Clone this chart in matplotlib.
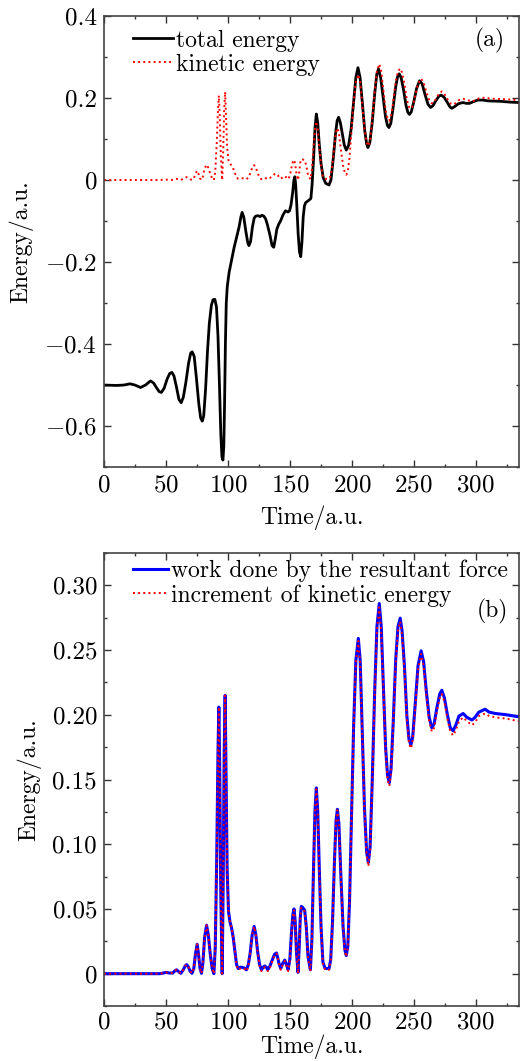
import numpy as np
import matplotlib
matplotlib.use("Agg")
import matplotlib.pyplot as plt

plt.rcParams['font.family'] = 'serif'
plt.rcParams['font.serif'] = ['cmr10']
plt.rcParams['mathtext.fontset'] = 'cm'
plt.rcParams['axes.formatter.use_mathtext'] = True
plt.rcParams['font.size'] = 17

# total energy (black)
t_tot = [0, 10, 16, 21, 25, 29.5, 33.5, 37.5, 40, 42.5, 44.5, 46.3, 48.5, 51, 53, 54.8, 56.5,
         58.5, 60.5, 62.3, 64, 66, 68.3, 70, 71.2, 72.8, 74.5, 76.5, 78, 79.3, 80.5, 82, 83.5,
         85, 86.7, 88, 89.5, 90.8, 92, 93.2, 94.3, 95.2, 96, 96.7, 97.3, 98, 98.7, 99.5, 101,
         103, 105, 107, 109, 110.5, 111.5, 112.8, 114.5, 116, 117, 118.3, 119.8, 121.2, 122.5,
         124.5, 126, 127.5, 129, 130.5, 132, 134, 135.7, 137, 138.2, 139.5, 141, 142.5, 144.5,
         146.5, 148.5, 149.8, 151, 152.3, 153.3, 154, 154.7, 155.6, 156.7, 157.8, 158.8, 159.8,
         160.8, 161.8, 162.8, 165.5, 167, 168, 169.3, 170.4, 171.4, 172.5, 173.7, 175.2, 177,
         179, 181.6, 183.2, 185, 186.8, 188.2, 189.4, 190.8, 192.5, 194, 195.6, 197.5, 199.5,
         201.5, 203.3, 205, 206.7, 208.5, 210.5, 212, 213, 214.5, 216.5, 218.5, 220.2, 221.6,
         223.3, 225.2, 227.2, 228.8, 230, 231.5, 233.3, 235.5, 237, 238.3, 239.8, 241.8, 243.8,
         245.3, 246.6, 248, 250, 252.3, 254.7, 256.8, 259, 261.5, 263.6, 265.5, 268, 270.5,
         272.2, 274.5, 277, 279.3, 280.8, 283, 286, 289.7, 292.5, 295, 298, 301.7, 306, 310,
         320, 328, 335]
e_tot = [-0.500, -0.501, -0.500, -0.497, -0.500, -0.506, -0.500, -0.490, -0.495, -0.507,
         -0.516, -0.518, -0.508, -0.485, -0.472, -0.469, -0.478, -0.505, -0.535, -0.543,
         -0.530, -0.495, -0.446, -0.422, -0.419, -0.430, -0.480, -0.545, -0.580, -0.588,
         -0.575, -0.510, -0.420, -0.350, -0.305, -0.292, -0.291, -0.310, -0.380, -0.500,
         -0.620, -0.675, -0.683, -0.650, -0.550, -0.400, -0.300, -0.260, -0.225, -0.195,
         -0.165, -0.140, -0.115, -0.090, -0.079, -0.090, -0.125, -0.152, -0.160, -0.150,
         -0.115, -0.093, -0.088, -0.087, -0.089, -0.086, -0.088, -0.095, -0.110, -0.135,
         -0.160, -0.164, -0.145, -0.120, -0.108, -0.100, -0.085, -0.075, -0.078, -0.075,
         -0.060, -0.030, 0.000, 0.008, -0.010, -0.060, -0.130, -0.175, -0.187, -0.150,
         -0.090, -0.063, -0.055, -0.049, -0.045, -0.010, 0.060, 0.130, 0.161, 0.140, 0.090,
         0.040, 0.005, -0.008, -0.012, 0.000, 0.050, 0.110, 0.145, 0.153, 0.140, 0.110, 0.085,
         0.073, 0.085, 0.125, 0.190, 0.250, 0.274, 0.250, 0.190, 0.120, 0.088, 0.079, 0.090,
         0.140, 0.210, 0.258, 0.271, 0.250, 0.205, 0.155, 0.133, 0.128, 0.138, 0.175, 0.228,
         0.252, 0.259, 0.250, 0.220, 0.182, 0.165, 0.160, 0.166, 0.190, 0.223, 0.242, 0.235,
         0.210, 0.185, 0.177, 0.181, 0.194, 0.205, 0.207, 0.202, 0.190, 0.178, 0.175, 0.179,
         0.186, 0.189, 0.187, 0.187, 0.191, 0.195, 0.195, 0.193, 0.192, 0.190, 0.189]

# kinetic energy (red dotted), same curve in both panels
t_kin = [0, 45, 48, 50, 53, 55.5, 57, 58.6, 60.3, 62, 64, 65.5, 66.7, 68, 69.5, 71, 72.5,
         73.8, 75.2, 76.3, 77.5, 78.7, 79.8, 81.2, 82.8, 84.2, 85.8, 87.3, 88.7, 89.8, 91, 92,
         92.7, 93.4, 94.3, 95.4, 96.2, 97, 97.8, 98.6, 99.4, 100.5, 101.7, 102.9, 104.3, 105.8,
         107, 108.3, 110, 111, 113, 115, 116.5, 118, 119.6, 121.2, 122.6, 124, 125.6, 127.1,
         128.5, 129.8, 131, 132.2, 134, 136, 137.7, 139.2, 140.3, 141.5, 142.7, 144.3, 145.9,
         147.3, 148.6, 150, 151.5, 152.5, 153.4, 154.3, 155.4, 156.6, 157.6, 158.4, 159.3,
         160.5, 162, 163.3, 164.7, 166.6, 167.8, 169, 170.3, 171.4, 172.5, 173.8, 175.2, 176.7,
         178.5, 181.7, 183, 184.5, 186, 187.3, 188.4, 189.6, 191.2, 193, 194.5,
         195.6, 196.8, 198.2, 199.8, 201.5, 203.3, 205.3, 206.8, 208.5, 210.3, 212, 213.4,
         214.8, 216.5, 218.5, 220.3, 222.2, 223.8, 225.5, 227.3, 228.9, 230.3, 231.7, 233.5,
         235.5, 237.3, 239.1, 240.6, 242.5, 244.5, 246.2, 247.7, 249.2, 251.2, 253.5, 256, 258,
         260.2, 262.5, 264.6, 266.5, 268.8, 271, 272.7, 274.8, 277.2, 279.5, 281.8, 284, 286.5,
         289.9, 293, 297, 299.5, 302.5, 307.6, 311, 316, 325, 335]
e_kin = [0, 0, 0.0005, 0.001, 0.0005, 0.0005, 0.002, 0.003, 0.0015, 0.0003, 0.003, 0.006,
         0.007, 0.0055, 0.002, 0.0003, 0.004, 0.015, 0.0227, 0.015, 0.004, 0.0003, 0.008,
         0.028, 0.0374, 0.030, 0.015, 0.004, 0.0, 0.020, 0.090, 0.170, 0.206, 0.160, 0.060,
         0.0, 0.070, 0.170, 0.215, 0.150, 0.080, 0.048, 0.040, 0.0356, 0.028, 0.016, 0.007,
         0.003, 0.004, 0.0045, 0.004, 0.002, 0.006, 0.016, 0.030, 0.0363, 0.030, 0.017, 0.006,
         0.002, 0.004, 0.005, 0.004, 0.002, 0.005, 0.010, 0.0145, 0.0155, 0.012, 0.006, 0.003,
         0.007, 0.0098, 0.006, 0.002, 0.010, 0.033, 0.045, 0.049, 0.040, 0.015, 0.0, 0.020,
         0.042, 0.051,
         0.050, 0.048, 0.035, 0.012, 0.002, 0.025, 0.075, 0.125, 0.1425, 0.125, 0.080, 0.035,
         0.008, 0.003, 0.003, 0.010, 0.040, 0.085, 0.117, 0.1263, 0.115, 0.075, 0.035, 0.017,
         0.013, 0.020, 0.055, 0.120, 0.190, 0.240, 0.257, 0.240, 0.185, 0.125, 0.092, 0.083,
         0.095, 0.145, 0.215, 0.265, 0.283, 0.265, 0.220, 0.172, 0.150, 0.145, 0.155, 0.192,
         0.240, 0.265, 0.272, 0.262, 0.235, 0.196, 0.178, 0.174, 0.180, 0.205, 0.235, 0.247,
         0.238, 0.215, 0.195, 0.187, 0.190, 0.203, 0.213, 0.216, 0.210, 0.197, 0.187, 0.184,
         0.188, 0.195, 0.198, 0.195, 0.192, 0.194, 0.199, 0.201, 0.199, 0.198, 0.197, 0.195]

# work done by the resultant force (blue), on the kinetic-energy time grid
e_work = [0, 0, 0.0005, 0.001, 0.0005, 0.0005, 0.002, 0.003, 0.0015, 0.0003, 0.003, 0.006,
          0.007, 0.0055, 0.002, 0.0003, 0.004, 0.015, 0.0227, 0.015, 0.004, 0.0003, 0.008,
          0.028, 0.0374, 0.030, 0.015, 0.004, 0.0, 0.020, 0.090, 0.170, 0.206, 0.160, 0.060,
          0.0, 0.070, 0.170, 0.215, 0.150, 0.080, 0.048, 0.040, 0.0356, 0.028, 0.016, 0.007,
          0.004, 0.005, 0.005, 0.0045, 0.003, 0.007, 0.016, 0.030, 0.0365, 0.030, 0.017, 0.007,
          0.003, 0.005, 0.006, 0.005, 0.003, 0.006, 0.011, 0.015, 0.016, 0.012, 0.007, 0.004,
          0.008, 0.0105, 0.007, 0.003, 0.011, 0.034, 0.046, 0.050, 0.041, 0.016, 0.001, 0.021,
          0.043, 0.052,
          0.051, 0.049, 0.036, 0.013, 0.003, 0.026, 0.076, 0.126, 0.1435, 0.126, 0.081, 0.036,
          0.009, 0.004, 0.004, 0.011, 0.041, 0.086, 0.118, 0.127, 0.116, 0.076, 0.036, 0.018,
          0.014, 0.021, 0.056, 0.121, 0.191, 0.242, 0.259, 0.242, 0.187, 0.127, 0.094, 0.0858,
          0.098, 0.148, 0.218, 0.268, 0.286, 0.268, 0.223, 0.175, 0.153, 0.1476, 0.158, 0.195,
          0.243, 0.268, 0.2747, 0.265, 0.238, 0.199, 0.181, 0.1767, 0.183, 0.208, 0.238, 0.2494,
          0.241, 0.218, 0.198, 0.190, 0.193, 0.206, 0.216, 0.219, 0.213, 0.200, 0.190, 0.1876,
          0.192, 0.199, 0.201, 0.198, 0.196, 0.198, 0.202, 0.2043, 0.202, 0.201, 0.200, 0.1984]

x_ticks = [0, 50, 100, 150, 200, 250, 300]
ya_ticks = [-0.6, -0.4, -0.2, 0, 0.2, 0.4]
ya_labels = ['$-0.6$', '$-0.4$', '$-0.2$', '0', '0.2', '0.4']
yb_ticks = [0, 0.05, 0.10, 0.15, 0.20, 0.25, 0.30]
yb_labels = ['0', '0.05', '0.10', '0.15', '0.20', '0.25', '0.30']


def style_axes(ax, xpad):
    ax.tick_params(which='both', direction='in', top=True, right=True, color='#333333',
                   labelsize=18)
    ax.tick_params(which='major', length=5, width=1, pad=5)
    ax.tick_params(which='minor', length=2.5, width=1)
    for s in ax.spines.values():
        s.set_linewidth(1.2)
        s.set_color('#444444')
    ax.set_xlim(0, 335)
    ax.set_xticks(x_ticks)
    ax.set_xticks(np.arange(25, 335, 50), minor=True)
    ax.set_xlabel('Time/a.u.', labelpad=xpad)
    ax.set_ylabel('Energy/a.u.', labelpad=8)


fig = plt.figure(figsize=(5.29, 10.61), dpi=100)

# panel (a)
ax1 = fig.add_axes([0.1966, 0.5598, 0.7845, 0.4251])
ax1.plot(t_tot, e_tot, color='black', lw=2.0, label='total energy')
ax1.plot(t_kin, e_kin, color='red', lw=1.4, ls=':', label='kinetic energy')
style_axes(ax1, 7)
ax1.set_ylim(-0.7, 0.4)
ax1.set_yticks(ya_ticks)
ax1.set_yticklabels(ya_labels)
ax1.set_yticks(np.arange(-0.7, 0.41, 0.1), minor=True)
ax1.legend(loc='upper left', bbox_to_anchor=(0.07, 0.97), frameon=False,
           handlelength=1.7, handletextpad=0.1, labelspacing=0.08,
           borderaxespad=0, borderpad=0)
ax1.text(0.93, 0.945, '(a)', transform=ax1.transAxes, ha='center', va='center')

# panel (b)
ax2 = fig.add_axes([0.1966, 0.0518, 0.7845, 0.4270])
ax2.plot(t_kin, e_work, color='blue', lw=2.2, label='work done by the resultant force')
ax2.plot(t_kin, e_kin, color='red', lw=1.4, ls=':', label='increment of kinetic energy')
style_axes(ax2, 0.5)
ax2.tick_params(axis='x', which='major', pad=4)
ax2.set_ylim(-0.025, 0.325)
ax2.set_yticks(yb_ticks)
ax2.set_yticklabels(yb_labels)
ax2.set_yticks(np.arange(-0.025, 0.326, 0.025), minor=True)
ax2.legend(loc='upper left', bbox_to_anchor=(0.07, 0.985), frameon=False,
           handlelength=1.5, handletextpad=0.1, labelspacing=0.08,
           borderaxespad=0, borderpad=0)
ax2.text(0.937, 0.870, '(b)', transform=ax2.transAxes, ha='center', va='center')

fig.savefig('out.png', dpi=100)
